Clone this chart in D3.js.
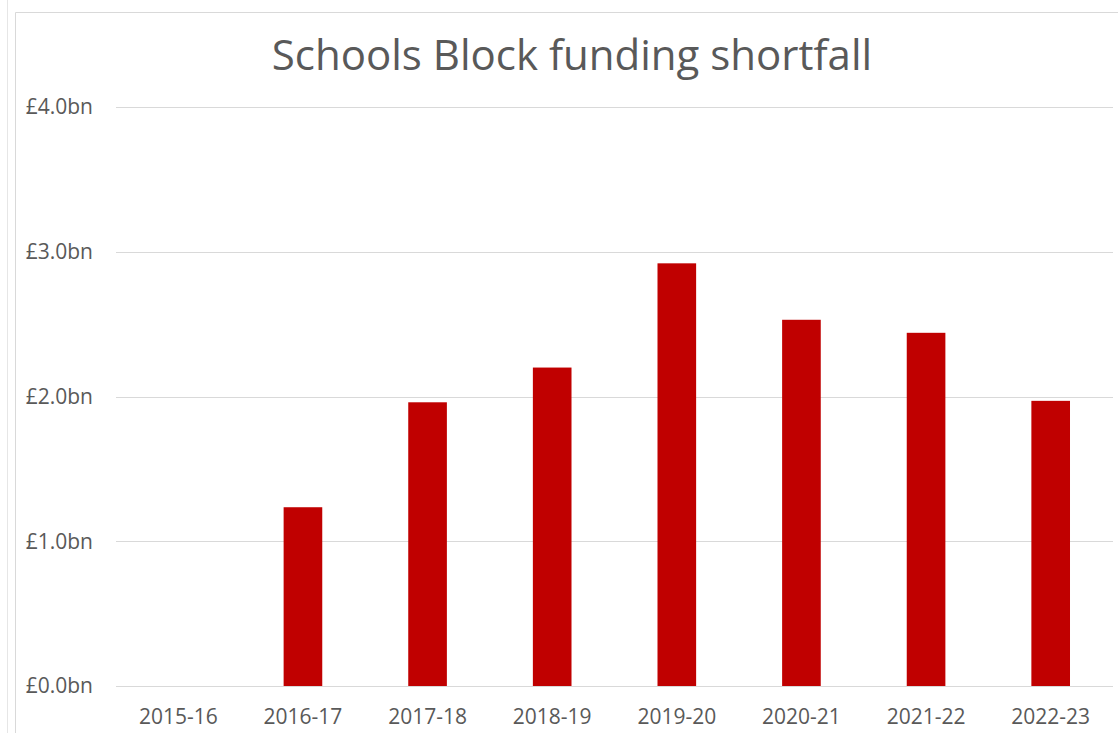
<!DOCTYPE html>
<html>
<head>
<meta charset="utf-8">
<script src="https://cdn.jsdelivr.net/npm/d3@7"></script>
<style>
  body { margin: 0; background: #fff; }
  svg { display: block; }
</style>
</head>
<body>
<div id="chart"></div>
<script>
// data (billions of pounds)
const years = ["2015-16", "2016-17", "2017-18", "2018-19", "2019-20", "2020-21", "2021-22", "2022-23"];
const shortfall = [0, 1.235, 1.96, 2.20, 2.92, 2.53, 2.44, 1.97];
const yTicks = [0, 1, 2, 3, 4];

const width = 1118, height = 733;
const margin = { top: 107, right: 5, bottom: 47, left: 116 };

const svg = d3.select("#chart").append("svg")
  .attr("width", width)
  .attr("height", height);

// frame of the chart area
svg.append("line").attr("x1", 7.5).attr("x2", 7.5).attr("y1", 0).attr("y2", height)
  .attr("stroke", "#e6e6e6");
svg.append("path")
  .attr("d", `M15.5,${height} V12.5 H${width}`)
  .attr("fill", "none")
  .attr("stroke", "#d9d9d9");

const x = d3.scaleBand()
  .domain(years)
  .range([margin.left, width - margin.right])
  .paddingInner(0.69)
  .paddingOuter(0.345);

const y = d3.scaleLinear()
  .domain([0, 4])
  .range([height - margin.bottom, margin.top]);

// gridlines
svg.append("g")
  .selectAll("line")
  .data(yTicks)
  .join("line")
  .attr("x1", margin.left)
  .attr("x2", width - margin.right)
  .attr("y1", d => Math.round(y(d)) + 0.5)
  .attr("y2", d => Math.round(y(d)) + 0.5)
  .attr("stroke", "#d9d9d9");

// y labels
svg.append("g")
  .selectAll("text")
  .data(yTicks)
  .join("text")
  .attr("x", 93)
  .attr("y", d => y(d))
  .attr("dy", "0.35em")
  .attr("text-anchor", "end")
  .attr("fill", "#595959")
  .style("font-family", "'Open Sans', sans-serif")
  .style("font-size", "21px")
  .text(d => "£" + d.toFixed(1) + "bn");

// bars
svg.append("g")
  .selectAll("rect")
  .data(shortfall)
  .join("rect")
  .attr("x", (d, i) => x(years[i]))
  .attr("y", d => y(d))
  .attr("width", x.bandwidth())
  .attr("height", d => y(0) - y(d))
  .attr("fill", "#c00000");

// x labels
svg.append("g")
  .selectAll("text")
  .data(years)
  .join("text")
  .attr("x", d => x(d) + x.bandwidth() / 2)
  .attr("y", 717)
  .attr("dy", "0.35em")
  .attr("text-anchor", "middle")
  .attr("fill", "#595959")
  .style("font-family", "'Open Sans', sans-serif")
  .style("font-size", "21px")
  .text(d => d);

// title
svg.append("text")
  .attr("x", 572)
  .attr("y", 55)
  .attr("dy", "0.35em")
  .attr("text-anchor", "middle")
  .attr("fill", "#595959")
  .style("font-family", "'Open Sans', sans-serif")
  .style("font-size", "42px")
  .text("Schools Block funding shortfall");
</script>
</body>
</html>
